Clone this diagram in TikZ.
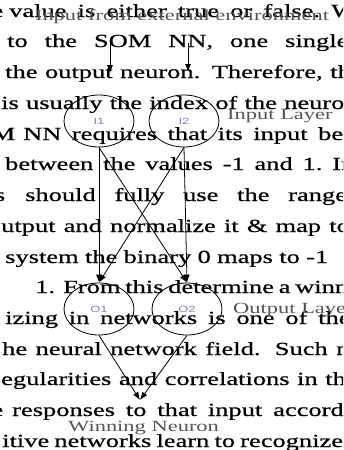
\documentclass[tikz,border=0pt]{standalone}
\usepackage{fontspec}
\usepackage{tikz}
\usetikzlibrary{arrows.meta,shapes.geometric}
\newfontfamily\pagefont{Liberation Serif}[FakeStretch=1.43,FakeBold=0.6]
\newfontfamily\labelfont{Liberation Serif}[FakeStretch=1.45]
\newfontfamily\neuronfont{Liberation Sans}[FakeStretch=1.45]
\definecolor{labelgray}{RGB}{85,85,85}
\definecolor{neuronmauve}{RGB}{150,115,200}

\tikzset{
  neuron/.style={draw, ellipse, line width=0.8pt, minimum width=70pt, minimum height=52pt,
    inner sep=0pt, text=neuronmauve, font=\neuronfont\fontsize{9}{9}\selectfont},
  layername/.style={anchor=base west, inner sep=0pt, text=labelgray,
    font=\labelfont\fontsize{15.5}{16}\selectfont},
  link/.style={line width=0.8pt, -{Latex[length=8pt,width=6pt]}},
  pagetext/.style={anchor=base west, inner sep=0pt, font=\pagefont\fontsize{18.5}{20}\selectfont}
}
% one justified line of the page behind the figure
\newcommand{\pageline}[7]{%
  \node[pagetext] (#1) at (#3,#2) {\llap{#4}\makebox[\dimexpr #7pt-#3pt\relax][s]{#5\ \rlap{#6}}};}

\begin{document}
\begin{tikzpicture}[x=1pt, y=-1pt]
  \useasboundingbox (0,0) rectangle (343,450);
  \clip (0,0) rectangle (343,450);
  % Page text
  \pageline{l1}{17}{9}{e\hspace{6pt}}{value is either true or false.}{W}{331}
  \pageline{l2}{47}{7}{}{to the SOM NN, one}{single}{285}
  \pageline{l3}{78}{5}{}{the output neuron. Therefore,}{th}{330}
  \pageline{l4}{109}{1}{}{is usually the index of the}{neuron}{284}
  \pageline{l5}{140}{23}{M\hspace{8pt}}{NN requires that its input}{be}{318}
  \pageline{l6}{170}{5}{}{between the values -1 and 1.}{In}{332}
  \pageline{l7}{201}{25}{s\hspace{20pt}}{should fully use the}{range}{288}
  \pageline{l8}{232}{1}{}{utput and normalize it \& map}{to}{329}
  \pageline{l9}{263}{5}{}{system the binary 0 maps to}{-1}{306}
  \pageline{l10}{293}{35}{}{1. From this determine a}{winni}{295}
  \pageline{l11}{324}{5}{}{izing in networks is one of}{the}{318}
  \pageline{l12}{355}{2}{}{he neural network field. Such}{n}{336}
  \pageline{l13}{385}{1}{}{egularities and correlations in}{th}{325}
  \pageline{l14}{416}{12}{e\hspace{9pt}}{responses to that input}{accordi}{273}
  \pageline{l15}{447}{2}{}{itive networks learn to}{recognize}{240}

  % Input
  \node[layername, anchor=base] (ext) at (182,20) {Input from external environment};
  \coordinate (ext1) at (110,43);
  \coordinate (ext2) at (188,43);
  \coordinate (in1) at (110,73);
  \coordinate (in2) at (188,72);
  \draw[link] (ext1) -- (in1);
  \draw[link] (ext2) -- (in2);
  % Input layer
  \node[neuron] (I1) at (99,121) {I1};
  \node[neuron] (I2) at (184,121) {I2};
  \node[layername] (inlayer) at (227,119) {Input Layer};
  % Output layer
  \node[neuron] (O1) at (99,309) {O1};
  \node[neuron] (O2) at (187,309) {O2};
  \node[layername] (outlayer) at (233,313) {Output Layer};
  % Weights
  \draw[link] (I1.south) -- (O1.north);
  \draw[link] (I1.south) -- (O2.north);
  \draw[link] (I2.south) -- (O2.north);
  \draw[link] (I2.south) -- (O1.north);
  % Winner
  \coordinate (win) at (140,400);
  \draw[link] (O1.south) -- (win);
  \draw[link] (O2.south) -- (win);
  \node[layername] (winner) at (68,431) {Winning Neuron};
\end{tikzpicture}
\end{document}
